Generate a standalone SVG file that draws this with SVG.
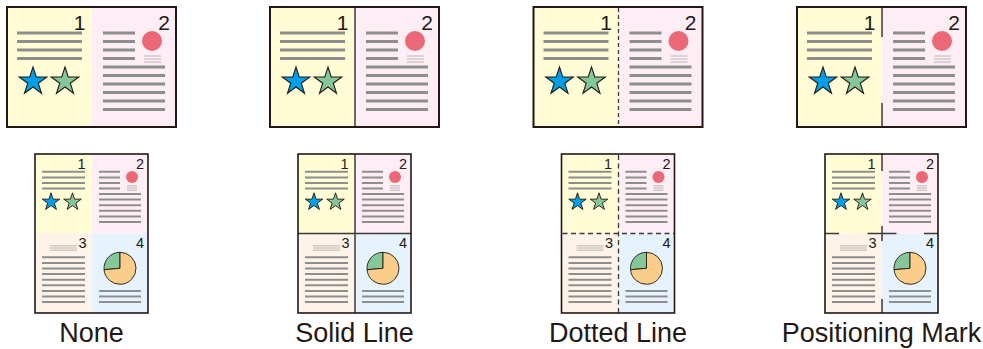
<svg xmlns="http://www.w3.org/2000/svg" xmlns:xlink="http://www.w3.org/1999/xlink" width="983" height="349" viewBox="0 0 983 349">
<style>
.yel{fill:#FFFCD6}
.pnk{fill:#FDEEF5}
.pch{fill:#FDF3E8}
.blu{fill:#E6F3FC}
.frame{fill:none;stroke:#231815;stroke-width:2}
.frameS{fill:none;stroke:#231815;stroke-width:1.6}
.ln{stroke:#8E8E8E;stroke-width:3}
.lns{stroke:#8E8E8E;stroke-width:2}
.lnt{stroke:#9E9E9E;stroke-width:0.7}
.num{font-family:"Liberation Sans",Arial,sans-serif;fill:#231815;text-anchor:end}
.big{font-size:21px}
.sm{font-size:14.5px}
.lab{font-family:"Liberation Sans",Arial,sans-serif;font-size:27px;fill:#231815;text-anchor:middle}
.div{stroke:#3E3A39;stroke-width:1.5;fill:none}
.dash{stroke:#3E3A39;stroke-width:1.3;fill:none;stroke-dasharray:4 3}
.dashb{stroke:#3E3A39;stroke-width:1.3;fill:none;stroke-dasharray:5 3.5}
.sb{fill:#00A0E9;stroke:#231815}
.sg{fill:#86C79A;stroke:#231815}
</style>
<defs>
<path id="star" d="M0,-10 L2.245,-3.09 L9.511,-3.09 L3.633,1.18 L5.878,8.09 L0,3.82 L-5.878,8.09 L-3.633,1.18 L-9.511,-3.09 L-2.245,-3.09 Z"/>
<g id="topArt">
<path class="ln" d="M17,33H82M17,41.5H82M17,50H82M17,58.5H82"/>
<use xlink:href="#star" class="sb" transform="translate(33,81.5) scale(1.45)" stroke-width="0.75"/>
<use xlink:href="#star" class="sg" transform="translate(65,81.5) scale(1.45)" stroke-width="0.75"/>
<path class="ln" d="M103,33H135M103,41.5H135M103,50H135M103,58.5H135"/>
<circle cx="152" cy="41" r="10" fill="#EB6877"/>
<path class="lnt" d="M144,56H161M144,59H161M144,62H161"/>
<path class="ln" d="M103,67H165M103,75.5H165M103,84H165M103,92.5H165M103,101H165M103,109.5H165"/>
</g>
<g id="botArt">
<path class="lns" d="M42,171.8H85M42,177.4H85M42,183H85M42,188.6H85"/>
<use xlink:href="#star" class="sb" transform="translate(51,202) scale(0.92)" stroke-width="1"/>
<use xlink:href="#star" class="sg" transform="translate(72.5,202) scale(0.92)" stroke-width="1"/>
<path class="lns" d="M99,171.8H120M99,177.4H120M99,183H120M99,188.6H120"/>
<circle cx="132" cy="177" r="6" fill="#EB6877"/>
<path class="lnt" d="M127,185.8H137M127,188H137M127,190.2H137"/>
<path class="lns" d="M99,194H141M99,199.6H141M99,205.2H141M99,210.8H141M99,216.4H141M99,222H141"/>
<path class="lnt" d="M50,245.8H77M50,248H77M50,250.2H77"/>
<path class="lns" d="M42,257.3H85M42,262.9H85M42,268.5H85M42,274.1H85M42,279.7H85M42,285.3H85M42,290.9H85M42,296.5H85M42,302.1H85"/>
<path d="M120,268.3 L120,252.3 A16,16 0 0 0 104.06,269.7 Z" fill="#86C79A" stroke="#231815" stroke-width="0.9"/>
<path d="M120,268.3 L104.06,269.7 A16,16 0 1 0 120,252.3 Z" fill="#FACD8A" stroke="#231815" stroke-width="0.9"/>
<path class="lns" d="M99,290.9H141M99,296.5H141M99,302.1H141"/>
</g>
</defs>

<g id="none-top">
<rect class="yel" x="7" y="7" width="85" height="120"/>
<rect class="pnk" x="92" y="7" width="84" height="120"/>
<use xlink:href="#topArt"/>
<text class="num big" x="85.5" y="30">1</text>
<text class="num big" x="170" y="30">2</text>
<rect class="frame" x="7" y="7" width="169" height="120"/>
</g>
<g id="none-bottom">
<rect class="yel" x="35" y="154" width="57" height="79.5"/>
<rect class="pnk" x="92" y="154" width="56" height="79.5"/>
<rect class="pch" x="35" y="233.5" width="57" height="79.5"/>
<rect class="blu" x="92" y="233.5" width="56" height="79.5"/>
<use xlink:href="#botArt"/>
<text class="num sm" x="85.6" y="169">1</text>
<text class="num sm" x="144" y="169">2</text>
<text class="num sm" x="86.5" y="248.3">3</text>
<text class="num sm" x="144" y="248.3">4</text>
<rect class="frameS" x="35" y="154" width="113" height="159"/>
</g>
<text id="label-none" class="lab" x="91.5" y="342">None</text>

<g id="solid-top" transform="translate(263,0)">
<rect class="yel" x="7" y="7" width="85" height="120"/>
<rect class="pnk" x="92" y="7" width="84" height="120"/>
<use xlink:href="#topArt"/>
<text class="num big" x="85.5" y="30">1</text>
<text class="num big" x="170" y="30">2</text>
<path class="div" d="M92,7V127"/>
<rect class="frame" x="7" y="7" width="169" height="120"/>
</g>
<g id="solid-bottom" transform="translate(263,0)">
<rect class="yel" x="35" y="154" width="57" height="79.5"/>
<rect class="pnk" x="92" y="154" width="56" height="79.5"/>
<rect class="pch" x="35" y="233.5" width="57" height="79.5"/>
<rect class="blu" x="92" y="233.5" width="56" height="79.5"/>
<use xlink:href="#botArt"/>
<text class="num sm" x="85.6" y="169">1</text>
<text class="num sm" x="144" y="169">2</text>
<text class="num sm" x="86.5" y="248.3">3</text>
<text class="num sm" x="144" y="248.3">4</text>
<path class="div" d="M92,154V313M35,233.5H148"/>
<rect class="frameS" x="35" y="154" width="113" height="159"/>
</g>
<text id="label-solid" class="lab" x="354.5" y="342">Solid Line</text>

<g id="dotted-top" transform="translate(526.5,0)">
<rect class="yel" x="7" y="7" width="85" height="120"/>
<rect class="pnk" x="92" y="7" width="84" height="120"/>
<use xlink:href="#topArt"/>
<text class="num big" x="85.5" y="30">1</text>
<text class="num big" x="170" y="30">2</text>
<path class="dash" d="M92,8V127"/>
<rect class="frame" x="7" y="7" width="169" height="120"/>
</g>
<g id="dotted-bottom" transform="translate(526.5,0)">
<rect class="yel" x="35" y="154" width="57" height="79.5"/>
<rect class="pnk" x="92" y="154" width="56" height="79.5"/>
<rect class="pch" x="35" y="233.5" width="57" height="79.5"/>
<rect class="blu" x="92" y="233.5" width="56" height="79.5"/>
<use xlink:href="#botArt"/>
<text class="num sm" x="85.6" y="169">1</text>
<text class="num sm" x="144" y="169">2</text>
<text class="num sm" x="86.5" y="248.3">3</text>
<text class="num sm" x="144" y="248.3">4</text>
<path class="dashb" d="M92,155V313M36,233.5H148"/>
<rect class="frameS" x="35" y="154" width="113" height="159"/>
</g>
<text id="label-dotted" class="lab" x="618" y="342">Dotted Line</text>

<g id="mark-top" transform="translate(790,0)">
<rect class="yel" x="7" y="7" width="85" height="120"/>
<rect class="pnk" x="92" y="7" width="84" height="120"/>
<use xlink:href="#topArt"/>
<text class="num big" x="85.5" y="30">1</text>
<text class="num big" x="170" y="30">2</text>
<path class="div" d="M92,7V37M92,103V127"/>
<rect class="frame" x="7" y="7" width="169" height="120"/>
</g>
<g id="mark-bottom" transform="translate(790,0)">
<rect class="yel" x="35" y="154" width="57" height="79.5"/>
<rect class="pnk" x="92" y="154" width="56" height="79.5"/>
<rect class="pch" x="35" y="233.5" width="57" height="79.5"/>
<rect class="blu" x="92" y="233.5" width="56" height="79.5"/>
<use xlink:href="#botArt"/>
<text class="num sm" x="85.6" y="169">1</text>
<text class="num sm" x="144" y="169">2</text>
<text class="num sm" x="86.5" y="248.3">3</text>
<text class="num sm" x="144" y="248.3">4</text>
<path class="div" d="M92,154V171M92,226V241M92,299V313M35,233.5H49M77.5,233.5H106.5M134,233.5H148"/>
<rect class="frameS" x="35" y="154" width="113" height="159"/>
</g>
<text id="label-mark" class="lab" x="881.5" y="342">Positioning Mark</text>
</svg>
